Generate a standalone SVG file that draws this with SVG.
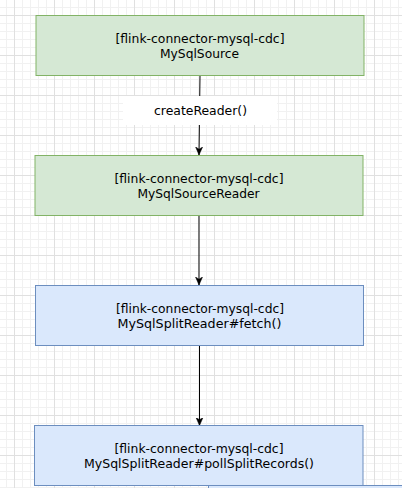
<svg xmlns="http://www.w3.org/2000/svg" width="402" height="488" viewBox="0 0 402 488">
<style>
.g{fill:#d5e8d4;stroke:#82b366;stroke-width:1}
.b{fill:#dae8fc;stroke:#6c8ebf;stroke-width:1}
.t{font-family:"DejaVu Sans","Liberation Sans",sans-serif;font-size:12px;fill:#000;text-anchor:middle}
.e{fill:none;stroke:#000;stroke-width:1}
</style>
<defs>
<pattern id="grid" patternUnits="userSpaceOnUse" x="14" y="15" width="40" height="40">
<path d="M8.5 0V40M16.5 0V40M24.5 0V40M32.5 0V40M0 8.5H40M0 16.5H40M0 24.5H40M0 32.5H40" stroke="#f1f1f1" stroke-width="1" fill="none"/>
<path d="M0.5 0V40M0 0.5H40" stroke="#e0e0e0" stroke-width="1" fill="none"/>
</pattern>
<marker id="arr" markerUnits="userSpaceOnUse" markerWidth="10" markerHeight="10" viewBox="0 0 10 10" refX="8" refY="5" orient="auto">
<path d="M0,1.5 L8,5 L0,8.5 L2.2,5 Z" fill="#000" stroke="#000" stroke-width="0.5"/>
</marker>
</defs>
<rect width="402" height="488" fill="#fff"/>
<rect width="402" height="488" fill="url(#grid)"/>
<g id="connectors">
<path class="e" d="M200 75 L199 155" marker-end="url(#arr)"/>
<path class="e" d="M199 215 L199 285" marker-end="url(#arr)"/>
<path class="e" d="M199.5 345 L199.5 425.5" marker-end="url(#arr)"/>
<g id="label-createReader">
<rect x="123" y="96" width="154" height="29" fill="#fff"/>
<text class="t" x="200.5" y="115" textLength="93" lengthAdjust="spacingAndGlyphs">createReader()</text>
</g>
</g>
<g id="node-mysqlsource">
<rect class="g" x="36" y="15.5" width="328" height="60"/>
<text class="t" x="200" y="42.5" textLength="169" lengthAdjust="spacingAndGlyphs">[flink-connector-mysql-cdc]</text>
<text class="t" x="199.5" y="57.5" textLength="79" lengthAdjust="spacingAndGlyphs">MySqlSource</text>
</g>
<g id="node-mysqlsourcereader">
<rect class="g" x="35" y="155.5" width="328" height="60"/>
<text class="t" x="199" y="182.5" textLength="169" lengthAdjust="spacingAndGlyphs">[flink-connector-mysql-cdc]</text>
<text class="t" x="198.5" y="197.5" textLength="122" lengthAdjust="spacingAndGlyphs">MySqlSourceReader</text>
</g>
<g id="node-fetch">
<rect class="b" x="35.5" y="285.5" width="328" height="60"/>
<text class="t" x="200" y="312.5" textLength="168" lengthAdjust="spacingAndGlyphs">[flink-connector-mysql-cdc]</text>
<text class="t" x="199.5" y="328" textLength="164" lengthAdjust="spacingAndGlyphs">MySqlSplitReader#fetch()</text>
</g>
<g id="node-pollsplitrecords">
<rect class="b" x="34.5" y="425.5" width="328.5" height="60"/>
<text class="t" x="199" y="452.5" textLength="169" lengthAdjust="spacingAndGlyphs">[flink-connector-mysql-cdc]</text>
<text class="t" x="199" y="468" textLength="230" lengthAdjust="spacingAndGlyphs">MySqlSplitReader#pollSplitRecords()</text>
</g>
<g id="node-partial">
<rect class="b" x="208.5" y="485.5" width="220" height="40"/>
</g>
</svg>
